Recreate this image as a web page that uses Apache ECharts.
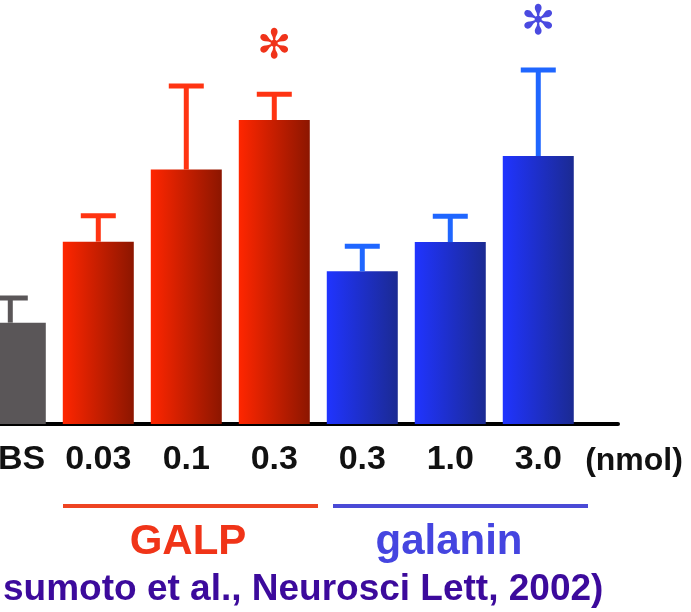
<!DOCTYPE html>
<html>
<head>
<meta charset="utf-8">
<script src="https://cdn.jsdelivr.net/npm/echarts@6/dist/echarts.min.js"></script>
<style>
html,body{margin:0;padding:0;background:#fff;}
#c{width:691px;height:612px;}
</style>
</head>
<body>
<div id="c"></div>
<script>
// ---- data ----
const categories = ['PBS', '0.03', '0.1', '0.3', '0.3', '1.0', '3.0'];
const means      = [2.39, 4.30, 6.00, 7.17, 3.60, 4.29, 6.32];
const sems       = [0.58, 0.61, 1.97, 0.61, 0.59, 0.61, 2.03];
const groups     = ['ctrl', 'galp', 'galp', 'galp', 'gal', 'gal', 'gal'];
const significant = [0, 0, 0, 1, 0, 0, 1];
const positions  = [0, 1, 2, 3, 4, 5, 6];
const unitLabel = '(nmol)';
const groupLabels = { galp: 'GALP', gal: 'galanin' };
const citation = 'sumoto et al., Neurosci Lett, 2002)';

// ---- styles ----
const FONT = "'Liberation Sans', Arial, Helvetica, sans-serif";
const barFill = {
  ctrl: '#5a5658',
  galp: new echarts.graphic.LinearGradient(0, 0, 1, 0, [
    { offset: 0, color: '#ff2600' }, { offset: 1, color: '#8c1600' }]),
  gal: new echarts.graphic.LinearGradient(0, 0, 1, 0, [
    { offset: 0, color: '#2034ff' }, { offset: 1, color: '#1b2a92' }])
};
const errColor = { ctrl: '#5a5658', galp: '#ff3412', gal: '#1f66ff' };
const starColor = { ctrl: '#5a5658', galp: '#f0331a', gal: '#4a4ae0' };
const BAR_W = 71;

const chart = echarts.init(document.getElementById('c'), null, { renderer: 'canvas' });

const dataRows = means.map((m, i) => [positions[i], m, sems[i], significant[i]]);

const option = {
  backgroundColor: '#ffffff',
  animation: false,
  grid: { left: 0, right: 73, top: 0, height: 424, containLabel: false, outerBoundsMode: 'none' },
  xAxis: {
    type: 'value', min: -0.117, max: 6.906,
    axisLine: { show: true, lineStyle: { color: '#000000', width: 4 } },
    axisTick: { show: false },
    splitLine: { show: false },
    axisLabel: {
      customValues: positions,
      formatter: function (v) { return categories[Math.round(v)]; },
      margin: 19, color: '#111111',
      fontFamily: FONT, fontWeight: 'bold', fontSize: 34,
      showMinLabel: true, showMaxLabel: true
    }
  },
  yAxis: { type: 'value', min: 0, max: 10, show: false },
  series: [
    {
      // bars
      type: 'custom', data: dataRows, silent: true, z: 2,
      renderItem: function (params, api) {
        const x = api.value(0), m = api.value(1);
        const p0 = api.coord([x, 0]);
        const p1 = api.coord([x, m]);
        return {
          type: 'rect',
          shape: { x: p0[0] - BAR_W / 2, y: p1[1], width: BAR_W, height: p0[1] - p1[1] },
          style: { fill: barFill[groups[params.dataIndex]] }
        };
      }
    },
    {
      // error bars + significance
      type: 'custom', data: dataRows, silent: true, z: 3,
      renderItem: function (params, api) {
        const x = api.value(0), m = api.value(1), s = api.value(2), sig = api.value(3);
        const base = api.coord([x, m]);
        const top = api.coord([x, m + s]);
        const g = groups[params.dataIndex];
        const col = errColor[g];
        const children = [
          { type: 'line', shape: { x1: base[0], y1: base[1], x2: top[0], y2: top[1] },
            style: { stroke: col, lineWidth: 5 } },
          { type: 'line', shape: { x1: top[0] - 17.5, y1: top[1], x2: top[0] + 17.5, y2: top[1] },
            style: { stroke: col, lineWidth: 5 } }
        ];
        if (sig) {
          children.push({
            type: 'text', x: top[0], y: top[1] - 47,
            style: { text: '\u273B', fill: starColor[g], fontSize: 41,
              fontFamily: "'DejaVu Sans', sans-serif", align: 'center', verticalAlign: 'middle' }
          });
        }
        return { type: 'group', children: children };
      }
    }
  ],
  graphic: [
    { type: 'line', shape: { x1: 63, y1: 506, x2: 318, y2: 506 },
      style: { stroke: '#ee4422', lineWidth: 4 } },
    { type: 'line', shape: { x1: 333, y1: 506, x2: 588, y2: 506 },
      style: { stroke: '#4a4ad6', lineWidth: 4 } },
    { type: 'text', x: 188, y: 542,
      style: { text: groupLabels.galp, fill: '#f03418', fontSize: 42, fontWeight: 'bold',
        fontFamily: FONT, align: 'center', verticalAlign: 'middle' } },
    { type: 'text', x: 449, y: 542,
      style: { text: groupLabels.gal, fill: '#4545e0', fontSize: 42, fontWeight: 'bold',
        fontFamily: FONT, align: 'center', verticalAlign: 'middle' } },
    { type: 'text', x: 634, y: 461,
      style: { text: unitLabel, fill: '#111111', fontSize: 32, fontWeight: 'bold',
        fontFamily: FONT, align: 'center', verticalAlign: 'middle' } },
    { type: 'text', x: 3, y: 590,
      style: { text: citation, fill: '#3c0a9c', fontSize: 37, fontWeight: 'bold',
        fontFamily: FONT, align: 'left', verticalAlign: 'middle' } }
  ]
};
chart.setOption(option);
</script>
</body>
</html>
